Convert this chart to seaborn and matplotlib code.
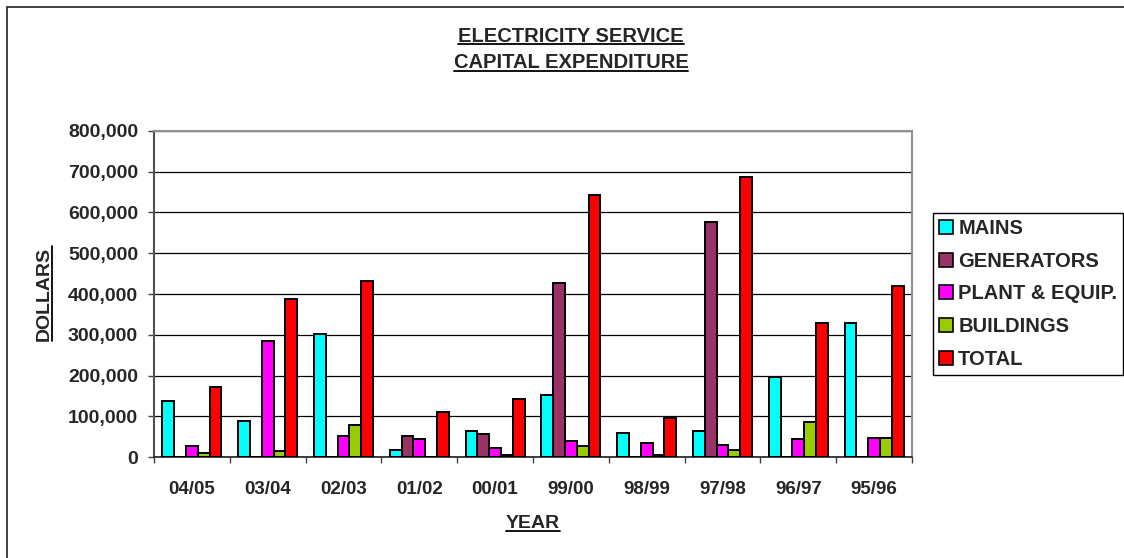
import matplotlib
matplotlib.use("Agg")
import matplotlib.pyplot as plt
import seaborn as sns
import pandas as pd
from matplotlib.lines import Line2D
from matplotlib.patches import Rectangle
from matplotlib.ticker import StrMethodFormatter, MultipleLocator, FixedLocator

years = ['04/05', '03/04', '02/03', '01/02', '00/01', '99/00', '98/99', '97/98', '96/97', '95/96']
series_names = ['MAINS', 'GENERATORS', 'PLANT & EQUIP.', 'BUILDINGS', 'TOTAL']
mains = [137000, 89000, 303000, 17000, 63000, 151000, 60000, 63000, 197000, 328000]
generators = [0, 0, 0, 52000, 56000, 427000, 0, 576000, 0, 0]
plant_equip = [26000, 285000, 52000, 43000, 21000, 39000, 34000, 29000, 43000, 46000]
buildings = [10000, 14000, 79000, 0, 6000, 26000, 5000, 17000, 87000, 46000]
total = [172000, 387000, 431000, 110000, 142000, 644000, 96000, 687000, 328000, 420000]
colors = ['#00FFFF', '#993366', '#FF00FF', '#99CC00', '#FF0000']

rows = []
for name, vals in zip(series_names, [mains, generators, plant_equip, buildings, total]):
    for y, v in zip(years, vals):
        rows.append({'year': y, 'series': name, 'value': v})
df = pd.DataFrame(rows)

sns.set_theme(style='white')
plt.rcParams['font.family'] = ['Liberation Sans', 'DejaVu Sans']
plt.rcParams['font.weight'] = 'bold'
FS_T = 14.5
FS_Y = 14
FS_X = 13.5

W, H = 1124, 558
fig = plt.figure(figsize=(W / 100, H / 100), dpi=100)
fig.patch.set_facecolor('white')
ax = fig.add_axes([154 / W, (H - 457) / H, (912 - 154) / W, (457 - 131) / H])

sns.barplot(data=df, x='year', y='value', hue='series', order=years, hue_order=series_names,
            palette=colors, saturation=1, width=0.78, gap=0, edgecolor='black', linewidth=1.4,
            errorbar=None, ax=ax, zorder=3)

ax.set_xlim(-0.5, len(years) - 0.5)
ax.set_ylim(0, 800000)
ax.yaxis.set_major_locator(MultipleLocator(100000))
ax.yaxis.set_major_formatter(StrMethodFormatter('{x:,.0f}'))
ax.grid(axis='y', color='black', linewidth=0.9, zorder=0)
ax.grid(axis='x', visible=False)
ax.set_axisbelow(True)

for s in ['top', 'right']:
    ax.spines[s].set_color('#909090')
    ax.spines[s].set_linewidth(1.5)
ax.spines['left'].set_color('#505050')
ax.spines['left'].set_linewidth(1.5)
ax.spines['bottom'].set_color('#202020')
ax.spines['bottom'].set_linewidth(1.2)

ax.tick_params(axis='y', which='major', direction='out', length=4.5, width=1, color='#404040',
               pad=7, labelsize=FS_Y, left=True)
ax.xaxis.set_minor_locator(FixedLocator([i - 0.5 for i in range(len(years) + 1)]))
ax.tick_params(axis='x', which='minor', direction='out', length=4.5, width=1, color='#404040', bottom=True)
ax.tick_params(axis='x', which='major', length=0, pad=17, labelsize=FS_X)
for lbl in ax.get_xticklabels() + ax.get_yticklabels():
    lbl.set_fontweight('bold')

ax.set_xlabel('')
ax.set_ylabel('')

leg = ax.get_legend()
handles = list(leg.legend_handles)
labels = [t.get_text() for t in leg.get_texts()]
leg.remove()
for h in handles:
    h.set_edgecolor('black')
    h.set_linewidth(1.2)
lg = fig.legend(handles, labels, loc='upper left', bbox_to_anchor=(933 / W, (H - 213) / H),
                bbox_transform=fig.transFigure, borderaxespad=0, frameon=True, fancybox=False,
                shadow=False, framealpha=1, edgecolor='black',
                handlelength=0.7, handleheight=0.7, handletextpad=0.25,
                labelspacing=0.68, borderpad=0.3, prop={'weight': 'bold', 'size': FS_T})
lg.get_frame().set_linewidth(1.0)

# texts
t1 = fig.text(571 / W, 1 - 36 / H, 'ELECTRICITY SERVICE', ha='center', va='center',
              fontsize=FS_T, fontweight='bold')
t2 = fig.text(571 / W, 1 - 63 / H, 'CAPITAL EXPENDITURE', ha='center', va='center',
              fontsize=FS_T, fontweight='bold')
tx = fig.text(533 / W, 1 - 524 / H, 'YEAR', ha='center', va='center', fontsize=FS_Y, fontweight='bold')
ty = fig.text(44.5 / W, 1 - 293.5 / H, 'DOLLARS', ha='center', va='center', rotation=90,
              fontsize=FS_Y, fontweight='bold')

# outer chart frame (left and top edges visible)
fig.add_artist(Rectangle((7 / W, -0.1), 1.2, (H - 7) / H + 0.1, transform=fig.transFigure,
                         fill=False, edgecolor='#202020', linewidth=1.2))

fig.canvas.draw()
r = fig.canvas.get_renderer()
inv = fig.transFigure.inverted()
for t in (t1, t2, tx):
    bb = t.get_window_extent(r)
    y = bb.y0 + 1.5
    (x0, yy), (x1, _) = inv.transform([(bb.x0, y), (bb.x1, y)])
    fig.add_artist(Line2D([x0, x1], [yy, yy], transform=fig.transFigure, color='black', linewidth=1.3))
bb = ty.get_window_extent(r)
x = bb.x1 - 1.5
(xx, y0), (_, y1) = inv.transform([(x, bb.y0), (x, bb.y1)])
fig.add_artist(Line2D([xx, xx], [y0, y1], transform=fig.transFigure, color='black', linewidth=1.3))

fig.savefig('out.png', dpi=100, facecolor='white')
